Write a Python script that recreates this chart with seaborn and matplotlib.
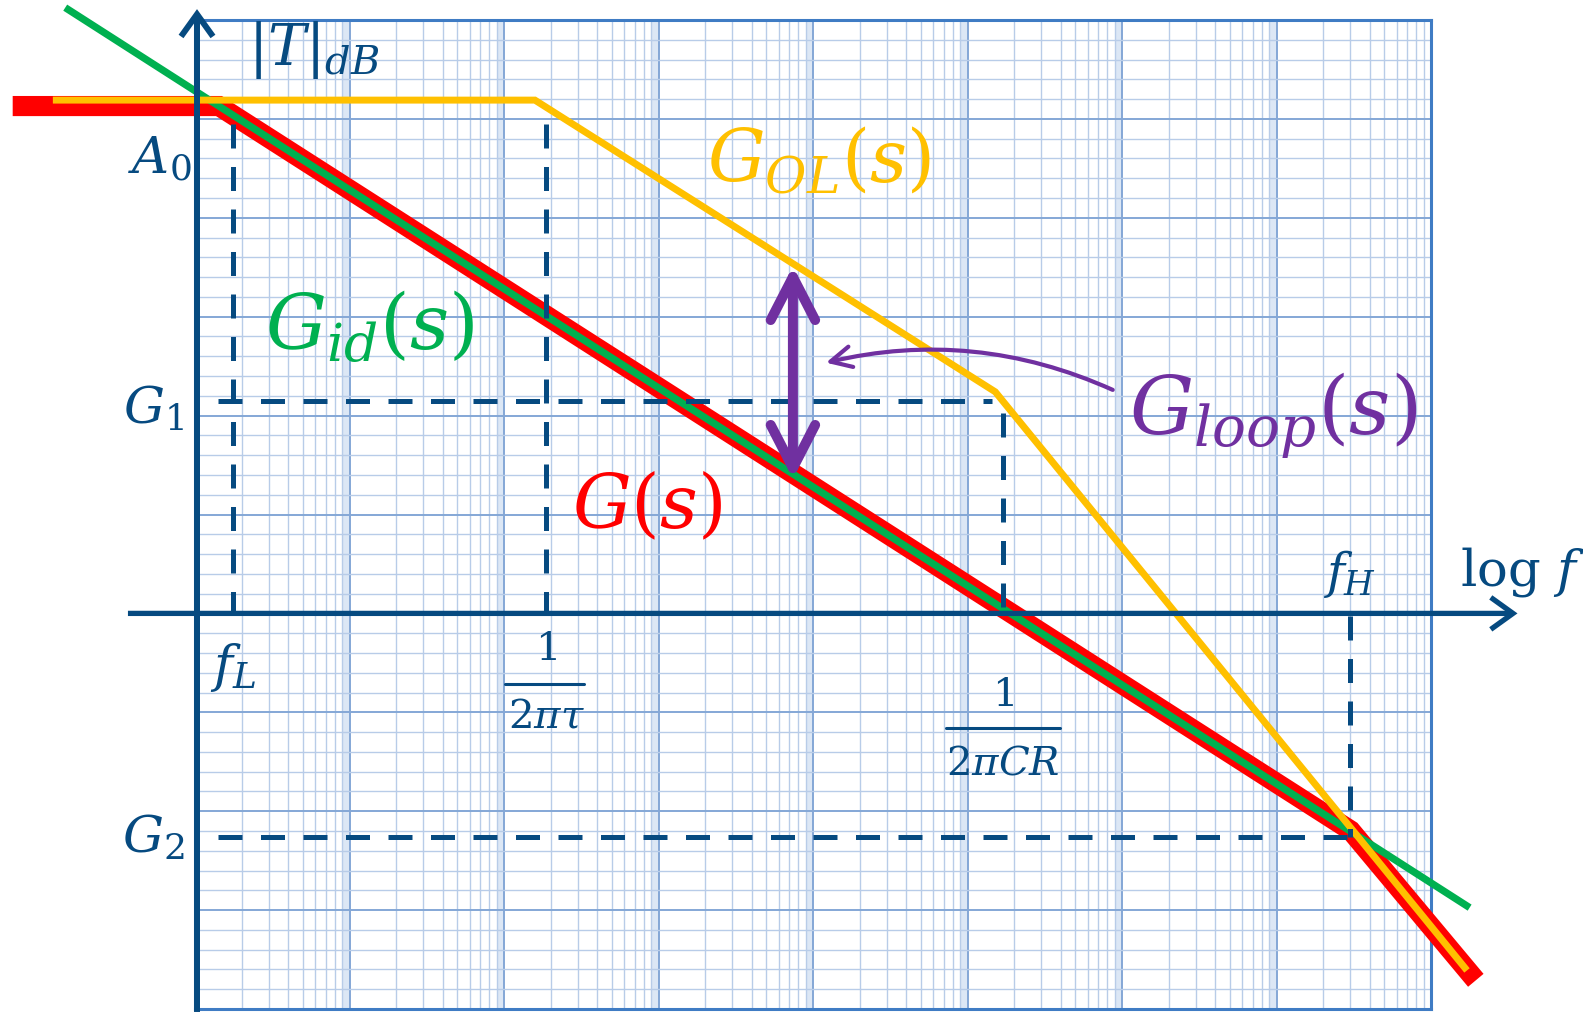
import numpy as np
import matplotlib
matplotlib.use("Agg")
import matplotlib.pyplot as plt
from matplotlib.patches import FancyArrowPatch
from matplotlib.ticker import LogLocator, MultipleLocator
import seaborn as sns

# ---- asymptotic Bode magnitudes: x = log10(f), y = |T| in dB ----
gid_logf = [-0.84, 8.25]
gid_db = [122.5, -59.5]

gol_logf = [-0.92, 2.20, 5.18, 8.233]
gol_db = [103.8, 103.8, 44.8, -72.2]

g_logf = [-1.18, 0.155, 7.48, 8.29]
g_db = [102.6, 102.6, -43.9, -74.2]

# characteristic frequencies (log10 f) and levels (dB)
f_l_logf = 0.247
tau_logf = 2.272
cr_logf = 5.227
f_h_logf = 7.476
g1_db = 43.0
g2_db = -45.3

# frequency at which the loop gain is marked
loop_logf = 3.87

NAVY = "#064A80"
RED = "#FF0000"
GREEN = "#00B050"
GOLD = "#FFC000"
PURPLE = "#7030A0"

sns.set_theme(style="white")
plt.rcParams["mathtext.fontset"] = "dejavuserif"
plt.rcParams["font.family"] = ["DejaVu Serif", "DejaVu Sans"]

W, H = 1583, 1013
fig = plt.figure(figsize=(W / 100, H / 100), dpi=100)
fig.patch.set_facecolor("white")

# semi-log graph paper: 8 decades wide, 200 dB high
ax = fig.add_axes([195 / W, 1 - 1009 / H, (1431 - 195) / W, (1009 - 20) / H])
ax.set_xscale("log")
ax.set_xlim(1, 1e8)
ax.set_ylim(-80, 120)
ax.set_facecolor("white")
ax.xaxis.set_major_locator(LogLocator(base=10, numticks=50))
ax.xaxis.set_minor_locator(LogLocator(base=10, subs=np.arange(2, 10), numticks=500))
ax.yaxis.set_major_locator(MultipleLocator(20))
ax.yaxis.set_minor_locator(MultipleLocator(4))
ax.tick_params(which="both", length=0, labelbottom=False, labelleft=False)
ax.set_axisbelow(True)
ax.grid(which="major", color="#84A7D6", lw=1.4)
ax.grid(which="minor", color="#B8CCE8", lw=1.0)
for k in range(1, 8):
    ax.axvspan(10 ** (k - 0.045), 10 ** k, color="#DCE7F5", lw=0, zorder=0)
for s in ax.spines.values():
    s.set_color("#3F7CC4")
    s.set_linewidth(2.2)


def curve(logf, db, color, lw, z):
    sns.lineplot(x=10 ** np.asarray(logf), y=db, ax=ax, color=color,
                 linewidth=lw, sort=False, estimator=None, legend=False)
    line = ax.lines[-1]
    line.set_zorder(z)
    line.set_clip_on(False)
    line.set_solid_capstyle("butt")
    line.set_solid_joinstyle("miter")


curve(g_logf, g_db, RED, 14.5, 3)
curve(gid_logf, gid_db, GREEN, 5.2, 4)
curve(gol_logf, gol_db, GOLD, 5.0, 5)

# dashed construction lines
dash_kw = dict(color=NAVY, lw=3.6, dashes=(4.8, 3.7), clip_on=False, zorder=6,
               solid_capstyle="butt", dash_capstyle="butt")
ax.plot([10 ** f_l_logf] * 2, [99.0, 0], **dash_kw)
ax.plot([10 ** tau_logf] * 2, [99.0, 0], **dash_kw)
ax.plot([10 ** 0.15, 10 ** 5.16], [g1_db] * 2, **dash_kw)
ax.plot([10 ** cr_logf] * 2, [40.5, 0], **dash_kw)
ax.plot([10 ** 0.15, 10 ** f_h_logf], [g2_db] * 2, **dash_kw)
ax.plot([10 ** f_h_logf] * 2, [-0.5, g2_db], **dash_kw)


def arrow(a, b, style, lw, color, z, **kw):
    p = FancyArrowPatch(a, b, arrowstyle=style, mutation_scale=1, lw=lw,
                        color=color, shrinkA=0, shrinkB=0, zorder=z,
                        clip_on=False, transform=ax.transData, **kw)
    ax.add_patch(p)


# coordinate axes
arrow((10 ** 0.013, -80.6), (10 ** 0.013, 122.2),
      "->,head_length=16,head_width=11.5", 4.3, NAVY, 7, capstyle="butt", joinstyle="miter")
arrow((10 ** -0.434, 0), (10 ** 8.56, 0),
      "->,head_length=16,head_width=11.5", 3.8, NAVY, 7, capstyle="butt", joinstyle="miter")

# loop gain: gap between G_OL and G_id
top = np.interp(loop_logf, gol_logf, gol_db)
bot = np.interp(loop_logf, gid_logf, gid_db)
arrow((10 ** loop_logf, bot - 1.0), (10 ** loop_logf, top - 0.5),
      "<->,head_length=31,head_width=16", 7.2, PURPLE, 8, capstyle="round", joinstyle="round")
arrow((10 ** 5.94, 45.2), (10 ** 4.084, 50.7),
      "->,head_length=15,head_width=7.5", 3.0, PURPLE, 8,
      connectionstyle="arc3,rad=0.17", capstyle="round", joinstyle="round")


def label(logf, db, s, size, color=NAVY, ha="left"):
    ax.text(10 ** logf, db, s, fontsize=size, color=color, ha=ha, va="baseline",
            zorder=9, clip_on=False)


label(0.345, 110.9, r"$|T|_{dB}$", 41)
label(-0.02, 88.9, r"$A_0$", 37, ha="right")
label(-0.07, 38.4, r"$G_1$", 37, ha="right")
label(-0.07, -48.3, r"$G_2$", 37, ha="right")
label(0.097, -13.7, r"$f_L$", 37)
label(7.30, 5.1, r"$f_H$", 35)
label(8.19, 5.7, r"$\log\,f$", 37)

# fraction labels under the break frequencies
label(tau_logf, -9.5, r"$1$", 29, ha="center")
label(tau_logf, -23.2, r"$2\pi\tau$", 29, ha="center")
ax.plot([10 ** 2.006, 10 ** 2.515], [-14.2] * 2, color=NAVY, lw=2.2, clip_on=False, zorder=9)
label(cr_logf, -18.7, r"$1$", 29, ha="center")
label(cr_logf, -32.5, r"$2\pi CR$", 29, ha="center")
ax.plot([10 ** 4.86, 10 ** 5.60], [-23.2] * 2, color=NAVY, lw=2.2, clip_on=False, zorder=9)

label(0.45, 53.2, r"$G_{id}(s)$", 55, GREEN)
label(3.312, 87.2, r"$G_{OL}(s)$", 52, GOLD)
label(2.443, 17.2, r"$G(s)$", 53, RED)
label(6.043, 36.2, r"$G_{loop}(s)$", 58, PURPLE)

fig.savefig("out.png", dpi=100, facecolor="white")
